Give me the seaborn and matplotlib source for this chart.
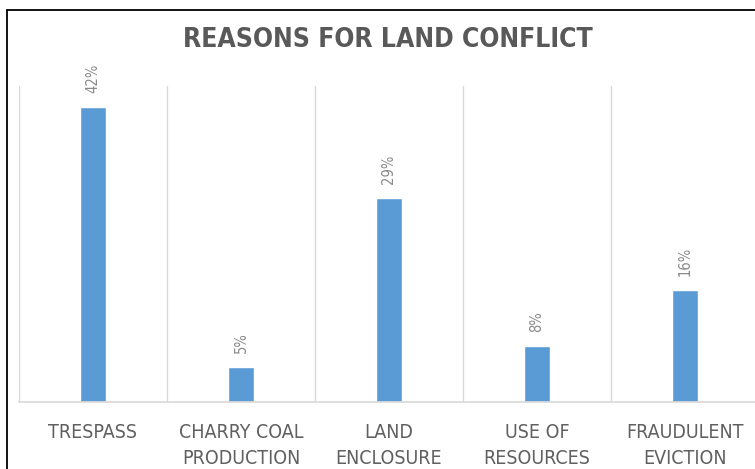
import matplotlib
matplotlib.use("Agg")
import matplotlib.pyplot as plt
from matplotlib import font_manager as fm
from matplotlib.lines import Line2D
import seaborn as sns
import pandas as pd

categories = ["TRESPASS", "CHARRY COAL\nPRODUCTION", "LAND\nENCLOSURE",
              "USE OF\nRESOURCES", "FRAUDULENT\nEVICTION"]
values = [42, 5, 29, 8, 16]
value_labels = ["42%", "5%", "29%", "8%", "16%"]
title = "REASONS FOR LAND CONFLICT"

sns.set_style("white")
available = {f.name for f in fm.fontManager.ttflist}
if "Liberation Sans Narrow" in available:
    narrow = dict(family="Liberation Sans Narrow")
else:
    narrow = dict(family="DejaVu Sans", stretch="condensed")
plt.rcParams["font.family"] = [narrow["family"], "DejaVu Sans"]

BAR = "#5B9BD5"
GRID = "#D9D9D9"
TEXT = "#595959"

fig = plt.figure(figsize=(7.55, 4.69), dpi=100)
W, H = 755, 469
# plot area runs a little past the right edge of the canvas
ax = fig.add_axes([19 / W, 67 / H, 740 / W, 316 / H])

df = pd.DataFrame({"reason": categories, "share": values})
sns.barplot(data=df, x="reason", y="share", color=BAR, width=0.18,
            saturation=1, ax=ax)

ax.set_xlim(-0.5, len(categories) - 0.5)
ax.set_ylim(0, 45)
for b in range(len(categories) + 1):
    ax.axvline(b - 0.5, color=GRID, lw=1, zorder=0)

for i, (v, lab) in enumerate(zip(values, value_labels)):
    ax.annotate(lab, (i, v), xytext=(0, 10), textcoords="offset points",
                rotation=90, ha="center", va="bottom", color="#8a8a8a",
                fontsize=10.5, **narrow)

ax.set_xlabel("")
ax.set_ylabel("")
ax.set_yticks([])
ax.tick_params(axis="x", length=0, pad=15)
ax.set_xticks(range(len(categories)))
ax.set_xticklabels(categories, color="#606060", fontsize=14, linespacing=1.45,
                   va="top", **narrow)
for s in ("top", "left", "right"):
    ax.spines[s].set_visible(False)
ax.spines["bottom"].set_color(GRID)
ax.spines["bottom"].set_linewidth(1.2)

fig.text(388 / W, 1 - 40 / H, title, ha="center", va="center",
         fontsize=19, fontweight="bold", color=TEXT, **narrow)

# frame around the chart area
fig.add_artist(Line2D([7 / W, 1], [1 - 10 / H, 1 - 10 / H],
                      color="black", lw=1.3, transform=fig.transFigure))
fig.add_artist(Line2D([7 / W, 7 / W], [0, 1 - 10 / H],
                      color="black", lw=1.3, transform=fig.transFigure))

fig.savefig("out.png", dpi=100)
